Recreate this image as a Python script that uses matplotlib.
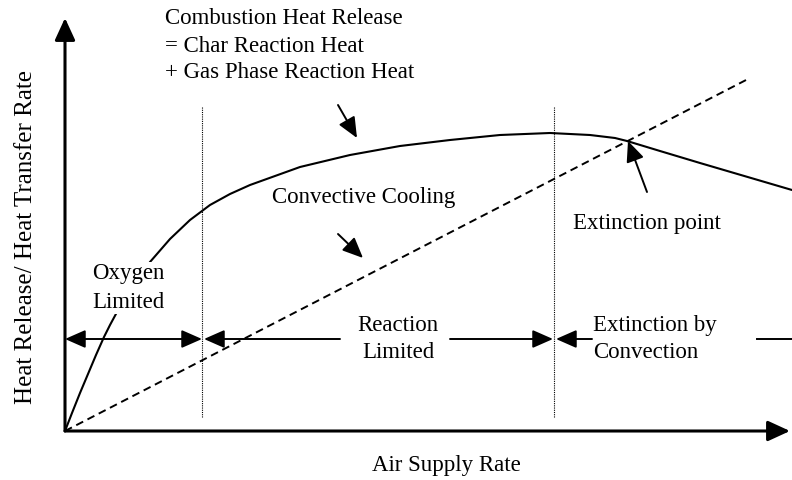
import matplotlib.pyplot as plt

plt.rcParams['font.family'] = ['Liberation Serif', 'DejaVu Serif']

# heat release curve (air supply rate vs heat release), schematic units
air = [0, 7, 15, 23, 31, 39, 45, 52, 65, 85, 105, 125, 145, 165, 185, 235, 285, 335,
       385, 435, 485, 525, 550, 562, 595, 635, 727]
heat_release = [0, 18, 38, 57, 76, 94, 106, 119, 141, 169, 192, 211, 226, 237, 246, 264, 276, 285,
                291, 296, 298, 296, 293, 290, 280, 268, 241]

# convective cooling is linear in air supply
cooling_air = [0, 683]
cooling_heat = [0, 352]

# regime boundaries and extinction point
regime_bounds = [137, 489]
extinction = (563, 290)
regime_y = 92

fig = plt.figure(figsize=(7.92, 4.8), dpi=100)
ax = fig.add_axes([0, 0, 1, 1])
ax.set_xlim(-65, 727)
ax.set_ylim(-49, 431)
ax.axis('off')

fs = 16.5
big_head = dict(arrowstyle='-|>,head_length=1.35,head_width=0.62', mutation_scale=10,
                color='black', lw=2.2, shrinkA=0, shrinkB=0)
small_head = dict(arrowstyle='-|>,head_length=1.25,head_width=0.55', mutation_scale=10,
                  color='black', lw=1.4, shrinkA=0, shrinkB=0)

# axes with arrow heads
ax.annotate('', xy=(0, 413), xytext=(0, 0), arrowprops=big_head)
ax.annotate('', xy=(725, 0), xytext=(0, 0), arrowprops=big_head)

# curves
ax.plot(air, heat_release, color='black', lw=1.5, solid_capstyle='round', solid_joinstyle='round')
ax.plot(cooling_air, cooling_heat, color='black', lw=1.4, linestyle=(0, (4, 2.5)))

# regime boundaries
for xb in regime_bounds:
    ax.plot([xb, xb], [14, 324], color='black', lw=0.8, linestyle=(0, (1, 1)))

# regime arrows
ax.annotate('', xy=(0, regime_y), xytext=(regime_bounds[0], regime_y),
            arrowprops=dict(small_head, arrowstyle='<|-|>,head_length=1.25,head_width=0.55'))
ax.annotate('', xy=(regime_bounds[0] + 2, regime_y), xytext=(275, regime_y), arrowprops=small_head)
ax.annotate('', xy=(regime_bounds[1] - 1, regime_y), xytext=(385, regime_y), arrowprops=small_head)
ax.annotate('', xy=(regime_bounds[1] + 2, regime_y), xytext=(527, regime_y), arrowprops=small_head)
ax.plot([692, 727], [regime_y, regime_y], color='black', lw=1.4)

# labels
ax.text(100, 413, 'Combustion Heat Release', fontsize=fs, va='center', ha='left')
ax.text(100, 385, '= Char Reaction Heat', fontsize=fs, va='center', ha='left')
ax.text(100, 358, '+ Gas Phase Reaction Heat', fontsize=fs, va='center', ha='left')
ax.annotate('', xy=(292, 293), xytext=(273, 326), arrowprops=small_head)

ax.text(299, 233, 'Convective Cooling', fontsize=fs, va='center', ha='center')
ax.annotate('', xy=(298, 173), xytext=(273, 197), arrowprops=small_head)

ax.text(508, 208, 'Extinction point', fontsize=fs, va='center', ha='left')
ax.annotate('', xy=extinction, xytext=(582, 239), arrowprops=small_head)

ax.text(63, 143, 'Oxygen\nLimited', fontsize=fs, va='center', ha='center', linespacing=1.45,
        bbox=dict(facecolor='white', edgecolor='none', pad=1))
ax.text(333, 92, 'Reaction\nLimited', fontsize=fs, va='center', ha='center', linespacing=1.4)
ax.text(528, 92, 'Extinction by\nConvection', fontsize=fs, va='center', ha='left', linespacing=1.4)

ax.text(381, -34, 'Air Supply Rate', fontsize=fs, va='center', ha='center')
ax.text(-39, 194, 'Heat Release/ Heat Transfer Rate', fontsize=18, va='center', ha='center',
        rotation=90)

fig.savefig('out.png', dpi=100)
